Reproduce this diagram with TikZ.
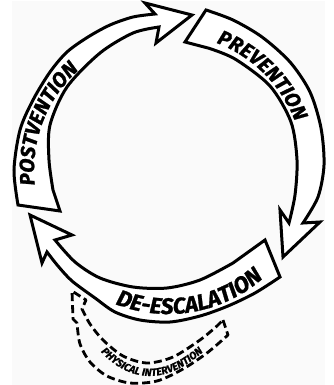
\documentclass[tikz,border=0pt]{standalone}
\usepackage{fontspec}
\newfontfamily\cyclefont{Fira Sans}[BoldItalicFeatures={FakeBold=1.2}]
\usetikzlibrary{decorations.text}
\definecolor{paper}{HTML}{FAFAFA}
\newcommand\bandfont{\cyclefont\bfseries\itshape\fontsize{20.5}{20.5}\selectfont}
\newcommand\deescfont{\cyclefont\bfseries\itshape\fontsize{22.5}{22.5}\selectfont}
\newcommand\physfont{\cyclefont\bfseries\itshape\fontsize{10.5}{10.5}\selectfont}
\begin{document}
\begin{tikzpicture}[x=1pt, y=-1pt,
    band/.style={draw, fill=white, line width=3pt, line join=miter},
    dashband/.style={draw, line width=2.8pt, dash pattern=on 8pt off 4pt, line join=round},
    curvetext/.style={decorate, decoration={text along path, text align=center, text={#1}}}]
    \useasboundingbox (0,0) rectangle (333,385);
    \fill[paper] (12,1) rectangle (325,385);
    \coordinate (C) at (168,170);
    \coordinate (physA) at (91,340); \coordinate (physB) at (150,376); \coordinate (physC) at (214,341);

    % postvention
    \draw[band] (60,211) -- plot[smooth] coordinates {(18,205) (14,170) (20,130) (33,100) (50,72) (67,52) (88,37) (110,25) (133,17) (155,14)}
        -- (145,3) -- (192,15) -- (156,43) -- plot[smooth] coordinates {(159,27) (133,33) (100,53) (67,87) (50,125) (49,160) (53,190)} -- cycle;
    % prevention
    \draw[band] (185,42) -- plot[smooth] coordinates {(206,10) (233,20) (262,37) (290,62) (310,92) (321,128) (324,165) (318,197) (303,223)}
        -- (320,222) -- (283,257) -- (280,210) -- plot[smooth] coordinates {(289,223) (295,195) (297,160) (291,122) (270,86) (235,59) (208,48)} -- cycle;
    % de-escalation
    \draw[band] (265,240) -- plot[smooth] coordinates {(280,277) (255,293) (228,306) (200,316) (170,322) (140,320) (115,312) (95,298) (72,281) (58,266) (47,252)}
        -- (42,263) -- (30,215) -- (72,235) -- plot[smooth] coordinates {(55,240) (75,262) (100,278) (133,287) (167,288) (200,280) (233,263)} -- cycle;
    % physical intervention
    \draw[dashband] (223,320) -- plot[smooth] coordinates {(228,335) (207,353) (183,369) (157,381) (130,383) (107,376) (90,362) (80,344) (77,323)}
        -- (73,319) -- (72,291) -- (86,300) -- plot[smooth] coordinates {(82,309) (90,324) (103,340) (123,356) (147,363) (173,357) (200,340) (217,326)} -- cycle;

    \path[curvetext={|\bandfont|POSTVENTION}] ([shift={(C)}]165:134) arc[start angle=165, end angle=237, radius=134];
    \path[curvetext={|\bandfont|PREVENTION}] ([shift={(C)}]-78:136) arc[start angle=-78, end angle=-12, radius=136];
    \path[curvetext={|\deescfont|DE-ESCALATION}] ([shift={(C)}]118:144) arc[start angle=118, end angle=42, radius=144];
    \path[curvetext={|\physfont|PHYSICAL INTERVENTION}] (physA) .. controls (108,363) and (128,376) .. (physB) .. controls (174,376) and (198,359) .. (physC);
\end{tikzpicture}
\end{document}
